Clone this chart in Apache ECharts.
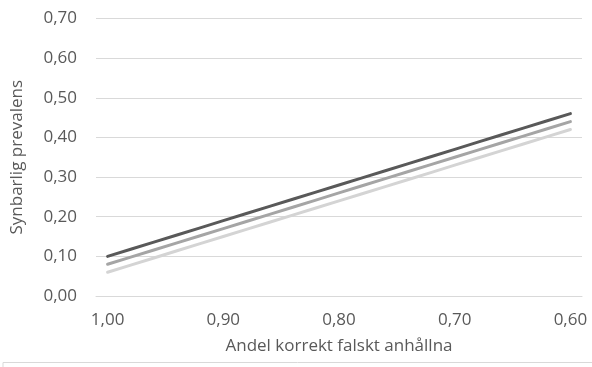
<!DOCTYPE html>
<html>
<head>
<meta charset="utf-8">
<script src="https://cdn.jsdelivr.net/npm/echarts@6/dist/echarts.min.js"></script>
<style>
  html, body { margin: 0; padding: 0; background: #fff; }
  #chart { width: 592px; height: 367px; }
</style>
</head>
<body>
<div id="chart"></div>
<script>
// Specificitet (andel korrekt falskt anhållna), 1,00 ned till 0,60
const categories = ['1,00','0,98','0,96','0,94','0,92','0,90','0,88','0,86','0,84','0,82',
                    '0,80','0,78','0,76','0,74','0,72','0,70','0,68','0,66','0,64','0,62','0,60'];

// Synbar prevalens för tre scenarier
const seriesDark = [0.100,0.118,0.136,0.154,0.172,0.190,0.208,0.226,0.244,0.262,
                    0.280,0.298,0.316,0.334,0.352,0.370,0.388,0.406,0.424,0.442,0.460];
const seriesMid = [0.080,0.098,0.116,0.134,0.152,0.170,0.188,0.206,0.224,0.242,
                   0.260,0.278,0.296,0.314,0.332,0.350,0.368,0.386,0.404,0.422,0.440];
const seriesLight = [0.060,0.078,0.096,0.114,0.132,0.150,0.168,0.186,0.204,0.222,
                     0.240,0.258,0.276,0.294,0.312,0.330,0.348,0.366,0.384,0.402,0.420];

const yTicks = { min: 0, max: 0.7, step: 0.1 };

const font = '"Open Sans", "Noto Sans", sans-serif';
const textColor = '#595959';
const fontSize = 17;

const chart = echarts.init(document.getElementById('chart'), null, { renderer: 'canvas' });

function lineSeries(data, color) {
  return {
    type: 'line',
    data: data,
    symbol: 'none',
    lineStyle: { color: color, width: 3, cap: 'round' },
    itemStyle: { color: color },
    animation: false
  };
}

chart.setOption({
  animation: false,
  grid: { left: 96, right: 10, top: 18.5, bottom: 71 },
  xAxis: {
    type: 'category',
    data: categories,
    boundaryGap: true,
    name: 'Andel korrekt falskt anhållna',
    nameLocation: 'middle',
    nameGap: 42,
    nameTextStyle: { color: textColor, fontFamily: font, fontSize: fontSize },
    axisLine: { lineStyle: { color: '#d9d9d9', width: 1 } },
    axisTick: { show: false },
    axisLabel: { interval: 4, color: textColor, fontFamily: font, fontSize: fontSize, margin: 16 },
    splitLine: { show: false }
  },
  yAxis: {
    type: 'value',
    min: yTicks.min,
    max: yTicks.max,
    interval: yTicks.step,
    name: 'Synbarlig prevalens',
    nameLocation: 'middle',
    nameGap: 70,
    nameRotate: 90,
    nameTextStyle: { color: textColor, fontFamily: font, fontSize: fontSize },
    axisLine: { show: false },
    axisTick: { show: false },
    axisLabel: {
      color: textColor, fontFamily: font, fontSize: fontSize, margin: 19,
      formatter: v => v.toFixed(2).replace('.', ',')
    },
    splitLine: { lineStyle: { color: '#d9d9d9', width: 1 } }
  },
  series: [
    lineSeries(seriesLight, '#d4d4d4'),
    lineSeries(seriesMid, '#a5a5a5'),
    lineSeries(seriesDark, '#595959')
  ],
  graphic: [
    {
      type: 'polyline',
      shape: { points: [[3, 367], [3, 362.5], [592, 362.5]] },
      style: { stroke: '#d9d9d9', lineWidth: 1, fill: null },
      silent: true
    }
  ]
});
</script>
</body>
</html>
